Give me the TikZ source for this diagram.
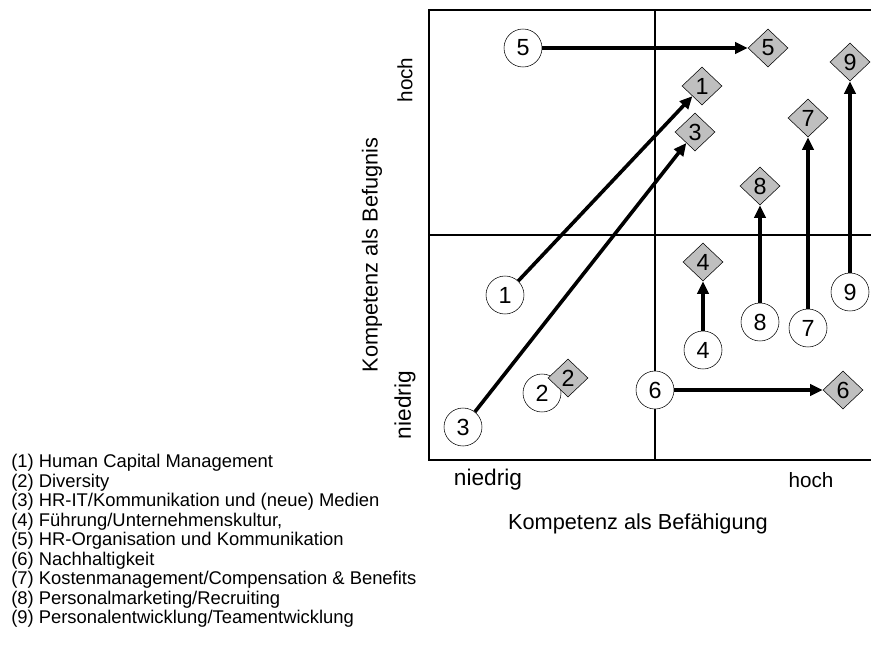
\documentclass[tikz,border=0pt]{standalone}
\usepackage{fontspec}
\setmainfont{Liberation Sans}
\usetikzlibrary{shapes.geometric}
\usetikzlibrary{arrows.meta}

\begin{document}
\begin{tikzpicture}[x=0.75pt, y=-0.75pt, >={Triangle[length=9.5pt,width=8.5pt]},
        punkt/.style={circle, draw, fill=white, minimum size=28.5pt, inner sep=0pt, font=\fontsize{17.5}{18}\selectfont},
        ziel/.style={diamond, draw, fill=gray!50, minimum width=30pt, minimum height=28.5pt, inner sep=0pt, font=\fontsize{17.5}{18}\selectfont},
        pfeil/.style={->, line width=2.7pt},
        achse/.style={font=\fontsize{16.3}{18}\selectfont},
        legende/.style={anchor=west, inner sep=0pt, font=\fontsize{13.8}{16}\selectfont}]
        \useasboundingbox (0,0) rectangle (871,650);

        % Portfolio-Raster
        \draw [line width=1.1pt] (871,10) -- (429,10) -- (429,460) -- (871,460);
        \draw [line width=1.1pt] (655,10) -- (655,460);
        \draw [line width=1.1pt] (429,235) -- (871,235);

        % Achsen
        \node [achse, rotate=90] (yachse) at (372,255) {Kompetenz als Befugnis};
        \node [achse, rotate=90, font=\fontsize{15.5}{18}\selectfont] (yhoch) at (405,80) {hoch};
        \node [achse, rotate=90, font=\fontsize{17}{18}\selectfont] (yniedrig) at (405,405) {niedrig};
        \node [achse, font=\fontsize{17}{18}\selectfont] (xniedrig) at (488,480) {niedrig};
        \node [achse, font=\fontsize{15.5}{18}\selectfont] (xhoch) at (811,480) {hoch};
        \node [achse] (xachse) at (638,524) {Kompetenz als Befähigung};

        % Ausgangslage
        \node [punkt] (c1) at (505,295) {1};
        \node [punkt] (c2) at (542,393) {2};
        \node [punkt] (c3) at (463,427) {3};
        \node [punkt] (c4) at (703,350) {4};
        \node [punkt] (c5) at (523,48) {5};
        \node [punkt] (c6) at (655,390) {6};
        \node [punkt] (c7) at (808,328) {7};
        \node [punkt] (c8) at (760,322) {8};
        \node [punkt] (c9) at (850,292) {9};

        % Zielposition
        \node [ziel] (d1) at (702,86) {1};
        \node [ziel] (d2) at (568,378) {2};
        \node [ziel] (d3) at (695,132) {3};
        \node [ziel] (d4) at (703,262) {4};
        \node [ziel] (d5) at (768,48) {5};
        \node [ziel] (d6) at (843,390) {6};
        \node [ziel] (d7) at (808,118) {7};
        \node [ziel] (d8) at (760,186) {8};
        \node [ziel] (d9) at (850,62) {9};

        \draw [pfeil] (c1) -- (d1);
        \draw [pfeil] (c3) -- (d3);
        \draw [pfeil] (c4) -- (d4);
        \draw [pfeil] (c5) -- (d5);
        \draw [pfeil] (c6) -- (d6);
        \draw [pfeil] (c7) -- (d7);
        \draw [pfeil] (c8) -- (d8);
        \draw [pfeil] (c9) -- (d9);

        % Legende
        \node [legende] (l1) at (11,463) {(1) Human Capital Management};
        \node [legende] (l2) at (11,482.5) {(2) Diversity};
        \node [legende] (l3) at (11,502) {(3) HR-IT/Kommunikation und (neue) Medien};
        \node [legende] (l4) at (11,521.5) {(4) Führung/Unternehmenskultur,};
        \node [legende] (l5) at (11,541) {(5) HR-Organisation und Kommunikation};
        \node [legende] (l6) at (11,560.5) {(6) Nachhaltigkeit};
        \node [legende] (l7) at (11,580) {(7) Kostenmanagement/Compensation \& Benefits};
        \node [legende] (l8) at (11,599.5) {(8) Personalmarketing/Recruiting};
        \node [legende] (l9) at (11,619) {(9) Personalentwicklung/Teamentwicklung};
\end{tikzpicture}
\end{document}
